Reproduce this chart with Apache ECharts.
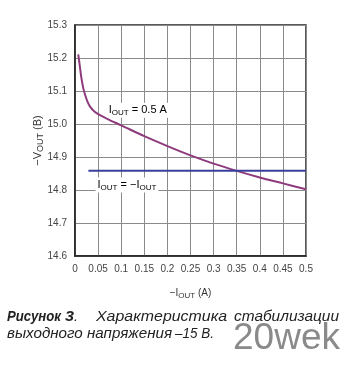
<!DOCTYPE html>
<html><head><meta charset="utf-8">
<script src="https://cdn.jsdelivr.net/npm/echarts@6/dist/echarts.min.js"></script>
<style>html,body{margin:0;padding:0;background:#fff}#c{width:353px;height:368px}</style>
</head><body><div id="c"></div>
<script>
var curveX = [0.007, 0.01, 0.014, 0.018, 0.022, 0.027, 0.033, 0.042, 0.055, 0.075, 0.1, 0.15, 0.2, 0.25, 0.3, 0.35, 0.4, 0.45, 0.5];
var curveY = [15.211, 15.18, 15.138, 15.108, 15.088, 15.068, 15.052, 15.038, 15.026, 15.012, 14.996, 14.963, 14.933, 14.905, 14.88, 14.858, 14.838, 14.82, 14.802];
var flatX = [0.029, 0.5];
var flatY = [14.858, 14.858];
var xTicks = ['0','0.05','0.1','0.15','0.2','0.25','0.3','0.35','0.4','0.45','0.5'];
var yTicks = ['14.6','14.7','14.8','14.9','15.0','15.1','15.2','15.3'];

function pairs(xs, ys){ return xs.map(function(x,i){return [x, ys[i]];}); }
var FONT = '"Liberation Sans", Arial, sans-serif';
var chart = echarts.init(document.getElementById('c'), null, {renderer:'canvas'});
var sub = {fontSize: 8, fontFamily: FONT, color:'#333', padding:[5,0,0,0]};
chart.setOption({
  animation:false,
  grid:{left:75, right:47, top:25, bottom:112, show:true, borderColor:'#222', borderWidth:1.5},
  xAxis:{type:'value', min:0, max:0.5, interval:0.05,
    axisLine:{show:true, onZero:false, lineStyle:{color:'#222', width:1.5}},
    axisTick:{show:false},
    splitLine:{show:true, lineStyle:{color:'#8a8a8a', width:1}},
    axisLabel:{color:'#444', fontSize:10, fontFamily:FONT, margin:8,
      formatter:function(v){ var i=Math.round(v/0.05); return xTicks[i]; }},
    name:'{m|−I}{s|OUT}{m| (A)}', nameLocation:'middle', nameGap:31, nameMoveOverlap:false,
    nameTextStyle:{rich:{m:{fontSize:10, fontFamily:FONT, color:'#333'}, s:sub}}
  },
  yAxis:{type:'value', min:14.6, max:15.3, interval:0.1,
    axisLine:{show:true, lineStyle:{color:'#222', width:1.5}},
    axisTick:{show:false},
    splitLine:{show:true, lineStyle:{color:'#8a8a8a', width:1}},
    axisLabel:{color:'#444', fontSize:10, fontFamily:FONT, margin:8,
      formatter:function(v){ var i=Math.round((v-14.6)/0.1); return yTicks[i]; }},
    name:'{m|−V}{s|OUT}{m| (B)}', nameLocation:'middle', nameGap:30, nameRotate:90, nameMoveOverlap:false,
    nameTextStyle:{rich:{m:{fontSize:11, fontFamily:FONT, color:'#333'}, s:{fontSize:9, fontFamily:FONT, color:'#333', padding:[5,0,0,0]}}}
  },
  series:[
    {type:'line', data:pairs(curveX, curveY), smooth:0.3, symbol:'none',
      lineStyle:{color:'#8e3b7e', width:2}, z:3},
    {type:'line', data:pairs(flatX, flatY), symbol:'none',
      lineStyle:{color:'#3a3f9a', width:2}, z:4}
  ]
});
var p1 = chart.convertToPixel({gridIndex:0}, [0.136, 15.042]);
var p2 = chart.convertToPixel({gridIndex:0}, [0.1125, 14.815]);
var lab = {m:{fontSize:11, fontFamily:FONT, color:'#333'}, s:sub};
var mctx = document.createElement('canvas').getContext('2d');
function fit(txt, bold, x0, x1, y){
  var f = 'italic ' + (bold?'bold ':'') + '14px ' + FONT;
  mctx.font = f;
  var w = mctx.measureText(txt).width;
  return {type:'text', x:x0, y:y, scaleX:(x1-x0)/w,
    style:{text:txt, fontSize:14, fontStyle:'italic', fontWeight: bold?'bold':'normal', fontFamily:FONT, fill:'#222', verticalAlign:'middle'}};
}
var b1 = 317, b2 = 334;
chart.setOption({graphic:[
  {type:'text', x:p1[0], y:p1[1], z:10, style:{text:'{m|I}{s|OUT}{m| = 0.5 A}', rich:lab, align:'center', verticalAlign:'middle', backgroundColor:'#fff', padding:[1,2]}},
  {type:'text', x:p2[0], y:p2[1], z:10, style:{text:'{m|I}{s|OUT}{m| = −I}{s|OUT}', rich:lab, align:'center', verticalAlign:'middle', backgroundColor:'#fff', padding:[1,2]}},
  fit('Рисунок', true, 7, 61, b1),
  fit('3', true, 65, 74, b1),
  fit('.', false, 74, 78, b1),
  fit('Характеристика', false, 96, 227, b1),
  fit('стабилизации', false, 234, 339, b1),
  fit('выходного напряжения', false, 7, 172, b2),
  fit('–15 В.', false, 175, 214, b2),
  {type:'text', x:233, y:339, style:{text:'20wek', fontSize:37, fontFamily:FONT, fill:'#8a8a8a', verticalAlign:'middle'}}
]});
</script></body></html>
